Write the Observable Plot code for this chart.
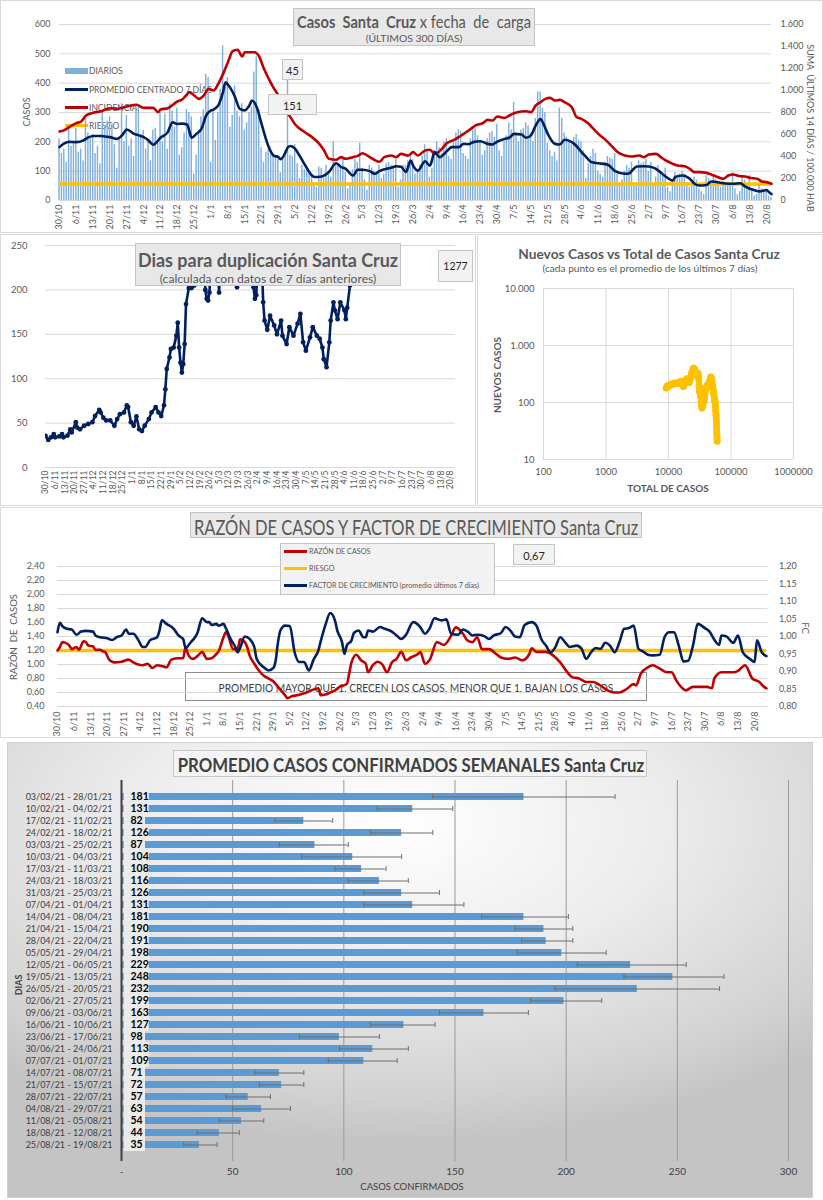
<!DOCTYPE html>
<html><head><meta charset="utf-8">
<script src="https://cdn.jsdelivr.net/npm/d3@7"></script>
<script src="https://cdn.jsdelivr.net/npm/@observablehq/plot@0.6"></script>
<style>
body{margin:0;background:#fff;font-family:Lato,"Open Sans",sans-serif;}
#root{position:relative;width:823px;height:1200px;overflow:hidden;background:#fff;}
#root div{position:absolute;}
svg{position:absolute;}
</style></head><body><div id="root"></div>
<script>
// ---------------- DATA ----------------
const weekTicks = ["30/10","6/11","13/11","20/11","27/11","4/12","11/12","18/12","25/12","1/1","8/1","15/1","22/1","29/1","5/2","12/2","19/2","26/2","5/3","12/3","19/3","26/3","2/4","9/4","16/4","23/4","30/4","7/5","14/5","21/5","28/5","4/6","11/6","18/6","25/6","2/7","9/7","16/7","23/7","30/7","6/8","13/8","20/8"];

// daily cases from 30/10/2020 (one value per day)
const casosDiarios = [
210,160,175,130,250,185,200, 245,165,175,135,280,230,210, 225,160,185,125,300,255,270,
285,260,190,110,210,330,200, 290,185,210,150,315,320,225, 240,175,205,135,240,245,195,
300,200,295,175,330,305,250, 315,155,180,230,310,300,285, 90,155,240,285,310,430,420,
130,305,205,300,380,527,390, 420,250,290,390,305,285,330, 240,265,300,320,438,490,310,
180,130,165,175,155,160,150, 140,95,150,170,410,155,150, 190,125,75,120,105,110,95,
85,60,45,115,110,75,120, 95,80,200,130,120,110,140, 95,40,55,105,140,130,195,
110,70,35,120,110,100,95, 120,75,90,125,130,120,115, 140,45,70,120,120,135,150,
140,90,100,120,150,190,165, 80,110,170,200,180,160,200, 210,150,140,200,230,240,235,
160,150,140,210,240,245,220, 200,155,170,210,230,235,215, 260,170,150,200,220,265,240,
335,225,200,240,245,265,255, 230,200,280,370,370,315,300, 195,170,150,165,135,315,280,
230,215,200,190,215,225,205, 200,170,75,125,150,175,160, 100,90,80,130,150,145,140,
160,90,60,70,100,120,110, 130,60,50,135,125,130,140, 100,130,60,80,120,95,85,
110,45,30,70,95,75,90, 100,90,60,45,55,80,70, 40,30,20,85,75,65,80,
70,55,45,65,60,55,60, 95,40,20,30,75,70,55, 85,40,15,20,55,40,35, 30,15,10];

const promedio7 = [["30/10",182],["1/11",195],["3/11",200],["6/11",199],["9/11",205],["11/11",215],["13/11",220],["16/11",220],["18/11",218],["20/11",216],["23/11",210],["25/11",222],["27/11",242],["30/11",227],["2/12",222],["4/12",216],["6/12",205],["8/12",190],["11/12",214],["14/12",233],["16/12",267],["18/12",261],["20/12",262],["22/12",259],["24/12",214],["26/12",228],["28/12",244],["30/12",290],["1/1",307],["2/1",310],["4/1",324],["6/1",370],["7/1",403],["8/1",395],["10/1",370],["11/1",352],["13/1",312],["15/1",307],["17/1",325],["18/1",341],["20/1",318],["22/1",261],["24/1",205],["25/1",182],["27/1",153],["29/1",148],["30/1",141],["1/2",165],["2/2",182],["3/2",186],["5/2",176],["7/2",150],["8/2",136],["10/2",108],["12/2",85],["13/2",80],["16/2",82],["19/2",97],["22/2",127],["24/2",115],["26/2",108],["1/3",85],["3/3",105],["5/3",105],["8/3",100],["10/3",91],["12/3",100],["15/3",108],["17/3",112],["19/3",117],["21/3",115],["23/3",97],["25/3",136],["26/3",119],["28/3",102],["31/3",134],["2/4",119],["4/4",165],["6/4",148],["9/4",168],["11/4",182],["14/4",182],["16/4",193],["18/4",192],["20/4",199],["23/4",202],["26/4",193],["28/4",191],["30/4",201],["3/5",210],["5/5",214],["7/5",227],["10/5",225],["12/5",214],["14/5",222],["16/5",256],["18/5",278],["19/5",265],["21/5",227],["24/5",193],["26/5",191],["28/5",207],["31/5",199],["2/6",185],["4/6",165],["6/6",148],["8/6",131],["11/6",127],["15/6",122],["18/6",100],["22/6",91],["24/6",93],["25/6",102],["27/6",116],["30/6",117],["2/7",116],["5/7",108],["7/7",95],["9/7",82],["12/7",68],["13/7",80],["16/7",85],["19/7",74],["21/7",57],["23/7",51],["26/7",53],["28/7",65],["30/7",63],["2/8",59],["6/8",57],["9/8",59],["11/8",48],["13/8",40],["15/8",35],["17/8",31],["20/8",36],["21/8",28],["22/8",22]];

// incidence: sum of last 14 days / 100.000 inhabitants (right axis)
const incidencia = [["30/10",627],["1/11",640],["3/11",667],["6/11",703],["8/11",718],["10/11",773],["13/11",797],["16/11",809],["20/11",839],["23/11",833],["27/11",854],["1/12",870],["4/12",842],["8/12",842],["10/12",803],["11/12",827],["14/12",839],["18/12",900],["20/12",918],["22/12",964],["23/12",985],["25/12",955],["27/12",924],["29/12",955],["31/12",1015],["2/1",1000],["4/1",1061],["6/1",1151],["8/1",1257],["10/1",1357],["12/1",1370],["14/1",1309],["15/1",1348],["17/1",1348],["19/1",1348],["21/1",1309],["23/1",1197],["25/1",1106],["27/1",1024],["29/1",955],["31/1",848],["3/2",758],["5/2",691],["8/2",636],["10/2",606],["12/2",576],["15/2",515],["17/2",455],["19/2",379],["22/2",370],["24/2",394],["26/2",379],["1/3",394],["3/3",406],["5/3",430],["8/3",394],["12/3",352],["14/3",394],["17/3",409],["19/3",394],["21/3",424],["24/3",409],["26/3",440],["28/3",409],["31/3",455],["2/4",461],["4/4",424],["7/4",470],["9/4",521],["12/4",551],["14/4",576],["16/4",606],["19/4",651],["21/4",682],["24/4",703],["26/4",733],["28/4",727],["30/4",764],["3/5",751],["5/5",773],["7/5",794],["10/5",809],["12/5",812],["14/5",803],["16/5",864],["18/5",894],["20/5",924],["22/5",933],["24/5",909],["26/5",915],["28/5",894],["31/5",848],["2/6",758],["4/6",742],["7/6",697],["9/6",651],["11/6",606],["14/6",551],["17/6",485],["19/6",440],["22/6",409],["25/6",400],["28/6",409],["30/6",394],["2/7",418],["5/7",424],["7/7",394],["9/7",364],["12/7",333],["14/7",318],["17/7",312],["19/7",288],["21/7",258],["23/7",258],["26/7",251],["28/7",236],["30/7",218],["2/8",197],["4/8",227],["6/8",236],["9/8",221],["11/8",218],["13/8",206],["16/8",197],["18/8",173],["20/8",167],["22/8",152]];
const riesgoIncidencia = 150;
const ticksCasos = [0,100,200,300,400,500,600];
const ticksIncidencia = [0,200,400,600,800,1000,1200,1400,1600];

// days for doubling
const diasDuplicacion = [["30/10",35.7],["1/11",31],["3/11",34],["5/11",37.6],["6/11",34],["9/11",35],["11/11",37.6],["12/11",34],["15/11",36],["17/11",43],["18/11",39.5],["21/11",51],["22/11",45],["24/11",43],["27/11",47],["30/11",49],["3/12",51],["5/12",58],["8/12",65],["9/12",62],["11/12",56],["13/12",53],["16/12",53],["19/12",47],["21/12",54.5],["23/12",60],["26/12",62],["28/12",70],["29/12",68],["31/12",51],["2/1",47],["4/1",57.5],["6/1",43],["8/1",41],["10/1",47],["13/1",54.5],["15/1",62],["18/1",68],["20/1",62],["22/1",58],["24/1",70],["25/1",88],["26/1",111],["28/1",124],["29/1",133.5],["31/1",135],["2/2",148.5],["3/2",163],["4/2",135],["5/2",118],["6/2",107],["7/2",116.5],["8/2",139],["9/2",184],["11/2",202],["13/2",202],["15/2",205],["17/2",280],["20/2",300],["22/2",260],["23/2",200],["24/2",190],["25/2",188],["26/2",197],["27/2",230],["1/3",280],["3/3",260],["5/3",197],["7/3",270],["10/3",320],["13/3",300],["16/3",280],["18/3",203],["20/3",260],["23/3",320],["26/3",300],["29/3",260],["30/3",203],["31/3",190],["1/4",194],["2/4",230],["4/4",280],["6/4",186],["7/4",165.5],["9/4",155],["11/4",171],["14/4",160],["16/4",150],["19/4",165.5],["20/4",148.5],["23/4",139],["25/4",158],["28/4",148.5],["1/5",162],["3/5",173],["5/5",141],["7/5",131.6],["10/5",146.6],["12/5",158],["15/5",148.5],["17/5",145],["19/5",135],["20/5",122],["22/5",113],["24/5",141],["25/5",165.5],["27/5",186],["28/5",177],["30/5",167],["1/6",186],["4/6",177],["5/6",167],["6/6",180],["8/6",205],["10/6",400],["20/6",650],["10/7",900],["1/8",1100],["25/8",1277]];
const ticksDuplicacion = [0,50,100,150,200,250];

// new cases vs total cases (7 day averages)
const nuevosVsTotal = [[9200,180],[9500,195],[9900,190],[10400,200],[10900,210],[11400,205],[12000,215],[12600,220],[13200,215],[13800,220],[14400,215],[15000,225],[15600,235],[16200,225],[16800,210],[17300,190],[17900,215],[18500,235],[19100,250],[19700,260],[20300,250],[20900,240],[21500,225],[22100,250],[22700,280],[23300,320],[23900,350],[24500,380],[25100,400],[25700,395],[26300,380],[26900,350],[27500,330],[28100,320],[28700,300],[29300,330],[29900,320],[30500,260],[31000,190],[31400,160],[31800,150],[32300,165],[32800,130],[33300,100],[33800,85],[34300,80],[34800,90],[35300,88],[35800,100],[36400,110],[37000,105],[37600,125],[38200,140],[38900,160],[39600,170],[40400,185],[41200,190],[42000,200],[42800,210],[43600,205],[44400,225],[45200,220],[46000,245],[46800,265],[47600,280],[48300,265],[49000,250],[49700,230],[50400,200],[51100,185],[51800,165],[52500,150],[53200,140],[53900,125],[54600,115],[55300,105],[55900,95],[56500,85],[57100,70],[57600,60],[58100,50],[58600,42],[59000,35],[59400,28],[59700,24],[60000,21]];
const ticksTotal = [100,1000,10000,100000,1000000];
const ticksNuevos = [10,100,1000,10000];

// ratio of cases (left axis) and growth factor (right axis)
const razonCasos = [["30/10",1.20],["31/10",1.25],["1/11",1.32],["3/11",1.30],["4/11",1.27],["5/11",1.22],["7/11",1.25],["8/11",1.21],["10/11",1.33],["11/11",1.32],["12/11",1.27],["14/11",1.26],["15/11",1.21],["17/11",1.21],["18/11",1.19],["19/11",1.18],["21/11",1.06],["23/11",1.03],["26/11",1.04],["29/11",1.07],["1/12",1.03],["3/12",1.00],["5/12",0.99],["7/12",1.01],["9/12",0.95],["11/12",0.99],["13/12",0.98],["15/12",0.96],["17/12",1.07],["20/12",1.09],["22/12",1.09],["23/12",1.25],["24/12",1.15],["26/12",1.08],["28/12",1.12],["30/12",1.18],["1/1",1.08],["3/1",1.09],["5/1",1.15],["6/1",1.19],["8/1",1.39],["9/1",1.46],["10/1",1.41],["12/1",1.22],["14/1",1.22],["15/1",1.36],["17/1",1.32],["18/1",1.25],["19/1",1.13],["21/1",1.01],["23/1",0.91],["25/1",0.84],["27/1",0.80],["29/1",0.76],["31/1",0.68],["3/2",0.56],["4/2",0.52],["6/2",0.55],["8/2",0.56],["10/2",0.58],["12/2",0.60],["14/2",0.63],["17/2",0.66],["18/2",0.56],["20/2",0.57],["22/2",0.60],["24/2",0.63],["26/2",0.68],["1/3",0.72],["2/3",0.87],["3/3",1.03],["5/3",1.14],["7/3",1.06],["9/3",1.01],["10/3",0.89],["12/3",0.99],["14/3",1.04],["16/3",1.00],["18/3",0.89],["20/3",1.03],["22/3",1.08],["24/3",1.18],["26/3",1.06],["28/3",1.10],["31/3",1.15],["1/4",1.18],["3/4",1.01],["5/4",1.07],["8/4",1.32],["11/4",1.28],["14/4",1.41],["16/4",1.53],["19/4",1.44],["21/4",1.34],["23/4",1.32],["25/4",1.39],["27/4",1.22],["30/4",1.22],["3/5",1.15],["5/5",1.10],["8/5",1.08],["11/5",1.10],["14/5",1.06],["17/5",1.15],["18/5",1.23],["20/5",1.18],["24/5",1.18],["27/5",1.13],["30/5",1.03],["2/6",0.89],["4/6",0.82],["7/6",0.80],["10/6",0.75],["13/6",0.75],["16/6",0.70],["19/6",0.63],["22/6",0.60],["24/6",0.60],["27/6",0.65],["30/6",0.72],["1/7",0.70],["3/7",0.87],["6/7",0.96],["8/7",0.99],["11/7",0.94],["14/7",0.89],["16/7",0.89],["18/7",0.77],["20/7",0.68],["22/7",0.63],["25/7",0.68],["28/7",0.68],["31/7",0.68],["2/8",0.66],["3/8",0.80],["6/8",0.89],["9/8",0.89],["11/8",0.89],["13/8",0.91],["16/8",0.99],["19/8",0.80],["22/8",0.75],["24/8",0.68],["25/8",0.66]];
const factorCrecimiento = [["30/10",1.012],["31/10",1.039],["1/11",1.030],["3/11",1.022],["5/11",1.020],["7/11",1.005],["9/11",1.014],["11/11",1.016],["14/11",1.014],["15/11",1.003],["17/11",0.998],["20/11",0.995],["22/11",0.990],["24/11",0.998],["26/11",1.003],["28/11",1.020],["29/11",1.008],["1/12",1.008],["3/12",0.991],["5/12",0.970],["6/12",0.970],["8/12",0.989],["11/12",0.998],["12/12",1.017],["13/12",1.046],["15/12",1.036],["18/12",1.022],["20/12",1.003],["22/12",0.993],["23/12",0.967],["25/12",0.982],["27/12",0.998],["28/12",1.010],["30/12",1.052],["1/1",1.041],["2/1",1.041],["3/1",1.033],["5/1",1.036],["6/1",1.031],["8/1",1.036],["9/1",1.024],["11/1",0.993],["13/1",0.970],["14/1",0.955],["15/1",0.967],["17/1",1.000],["19/1",0.993],["21/1",0.970],["22/1",0.936],["25/1",0.912],["27/1",0.903],["29/1",0.910],["30/1",0.931],["31/1",0.984],["1/2",1.017],["3/2",1.031],["5/2",1.030],["7/2",0.955],["9/2",0.927],["11/2",0.927],["13/2",0.903],["15/2",0.934],["17/2",0.960],["18/2",0.986],["20/2",1.033],["22/2",1.067],["24/2",1.046],["25/2",1.017],["27/2",0.984],["28/2",0.950],["1/3",0.974],["3/3",0.989],["4/3",1.010],["6/3",1.017],["8/3",0.998],["9/3",0.998],["10/3",1.017],["12/3",1.014],["15/3",1.027],["17/3",1.022],["20/3",1.014],["22/3",1.003],["24/3",0.993],["26/3",1.005],["29/3",1.041],["1/4",1.027],["3/4",1.008],["5/4",1.024],["7/4",1.052],["10/4",1.046],["12/4",1.049],["14/4",1.008],["17/4",1.005],["19/4",1.020],["21/4",1.014],["23/4",1.003],["25/4",1.005],["28/4",1.001],["30/4",0.993],["2/5",1.003],["5/5",1.010],["7/5",1.027],["9/5",1.017],["11/5",1.000],["13/5",0.998],["15/5",1.033],["18/5",1.041],["20/5",1.031],["22/5",0.993],["24/5",0.974],["26/5",0.955],["28/5",0.970],["30/5",0.998],["1/6",0.984],["3/6",0.970],["6/6",0.974],["8/6",0.965],["10/6",0.936],["12/6",0.955],["14/6",0.967],["16/6",0.965],["18/6",0.982],["20/6",0.974],["22/6",0.955],["24/6",0.984],["26/6",1.022],["28/6",1.024],["30/6",1.031],["2/7",0.965],["4/7",0.957],["6/7",0.948],["8/7",0.946],["11/7",0.948],["13/7",0.998],["15/7",1.012],["17/7",1.012],["19/7",0.974],["21/7",0.929],["23/7",0.931],["25/7",0.974],["27/7",1.036],["30/7",1.024],["1/8",1.014],["3/8",0.991],["5/8",0.976],["6/8",1.003],["8/8",1.001],["11/8",0.982],["13/8",1.003],["15/8",0.955],["18/8",0.936],["20/8",0.927],["21/8",0.989],["23/8",0.955],["25/8",0.944]];
const riesgoRazon = 1.2;
const ticksRazon = [0.4,0.6,0.8,1.0,1.2,1.4,1.6,1.8,2.0,2.2,2.4];
const ticksFC = [0.80,0.85,0.90,0.95,1.00,1.05,1.10,1.15,1.20];

// weekly confirmed cases average
const semanas = ["03/02/21 - 28/01/21","10/02/21 - 04/02/21","17/02/21 - 11/02/21","24/02/21 - 18/02/21","03/03/21 - 25/02/21","10/03/21 - 04/03/21","17/03/21 - 11/03/21","24/03/21 - 18/03/21","31/03/21 - 25/03/21","07/04/21 - 01/04/21","14/04/21 - 08/04/21","21/04/21 - 15/04/21","28/04/21 - 22/04/21","05/05/21 - 29/04/21","12/05/21 - 06/05/21","19/05/21 - 13/05/21","26/05/21 - 20/05/21","02/06/21 - 27/05/21","09/06/21 - 03/06/21","16/06/21 - 10/06/21","23/06/21 - 17/06/21","30/06/21 - 24/06/21","07/07/21 - 01/07/21","14/07/21 - 08/07/21","21/07/21 - 15/07/21","28/07/21 - 22/07/21","04/08/21 - 29/07/21","11/08/21 - 05/08/21","18/08/21 - 12/08/21","25/08/21 - 19/08/21"];
const promedioSemanal = [181,131,82,126,87,104,108,116,126,131,181,190,191,198,229,248,232,199,163,127,98,113,109,71,72,57,63,54,44,35];
const minSemanal = [140,115,69,112,71,81,96,102,109,109,162,177,180,178,205,226,195,184,143,112,80,98,93,60,62,47,50,44,34,28];
const maxSemanal = [222,149,95,140,102,126,119,129,143,154,201,203,203,218,254,271,269,216,183,141,116,129,124,82,82,67,76,64,53,43];
const ticksSemanal = [0,50,100,150,200,250,300];

// ---------------- HELPERS ----------------
const FONT = "Lato, 'Open Sans', sans-serif";
const GREY = "#595959";
const START = Date.UTC(2020, 9, 30);
function dayIndex(s) {
  const [d, m] = s.split("/").map(Number);
  const y = m >= 10 ? 2020 : 2021;
  return Math.round((Date.UTC(y, m - 1, d) - START) / 864e5);
}
const toSeries = arr => arr.map(([d, v]) => ({i: dayIndex(d), v}));
const loc = d3.formatLocale({decimal: ",", thousands: ".", grouping: [3], currency: ["$", ""]});
const fmtInt = loc.format(",d");
const fmt2 = loc.format(".2f");
const tickIdx = weekTicks.map(dayIndex);
const tickLab = d => weekTicks[tickIdx.indexOf(d)];

const root = document.getElementById("root");
function div(css, html) {
  const d = document.createElement("div");
  d.style.cssText = "position:absolute;" + css;
  if (html != null) d.innerHTML = html;
  root.appendChild(d);
  return d;
}
// centred text; optional target width squeezes the text horizontally to fit
function txt(x, y, html, css, rot, fitW) {
  const el = div(`left:${x}px;top:${y}px;transform:translate(-50%,-50%)${rot ? ` rotate(${rot}deg)` : ""};white-space:nowrap;color:${GREY};font-family:${FONT};${css || ""}`, html);
  if (fitW) {
    const w = el.offsetWidth;
    el.style.transform = `translate(-50%,-50%) scaleX(${fitW / w})`;
  }
  return el;
}
function box(x, y, w, h, css) {
  return div(`left:${x}px;top:${y}px;width:${w}px;height:${h}px;box-sizing:border-box;${css || ""}`);
}
function place(svg, left, top) {
  svg.style.left = left + "px"; svg.style.top = top + "px";
  root.appendChild(svg);
}
const baseStyle = (fs) => ({fontFamily: FONT, fontSize: fs, color: GREY, background: "transparent", overflow: "visible"});

// ---------------- PANEL FRAMES ----------------
box(0, 0, 823, 233, "border:1px solid #d9d9d9;background:#fff;");
box(0, 234, 476, 272, "border:1px solid #d9d9d9;background:#fff;");
box(477, 234, 346, 272, "border:1px solid #d9d9d9;background:#fff;");
box(0, 507, 823, 231, "border:1px solid #d9d9d9;background:#fff;");
box(7, 742, 806, 456, "border:1px solid #cfcfcf;background:radial-gradient(ellipse 75% 70% at 48% 18%, #ffffff 0%, #ececec 45%, #d2d2d2 85%, #c4c4c4 100%);");

// ---------------- PANEL 1 legend (under the lines) ----------------
const legend1 = [["DIARIOS", "#7fb0de", 6, 70.5], ["PROMEDIO CENTRADO 7 DÍAS", "#002060", 3, 89.5], ["INCIDENCIA", "#c00000", 3, 107.5], ["RIESGO", "#ffc000", 3.5, 125.5]];
legend1.forEach(([t, c, h, y]) => {
  box(65, y - h / 2, 23, h, `background:${c};`);
  div(`left:89px;top:${y - 6}px;line-height:12px;font-size:8.5px;color:${GREY};font-family:${FONT};white-space:nowrap;`, t);
});

// ---------------- PANEL 4 annotation (under the lines) ----------------
box(185, 672, 462, 29, "border:1px solid #8c8c8c;background:transparent;");
txt(415.5, 687, "PROMEDIO MAYOR QUE 1, CRECEN LOS CASOS, MENOR QUE 1, BAJAN LOS CASOS", "font-size:12px;color:#404040;", 0, 395);

// ---------------- PANEL 1 chart ----------------
const K1 = 600 / 1600;
const daily = casosDiarios.map((v, i) => ({i, v}));
const prom = toSeries(promedio7);
const inc = toSeries(incidencia);
const p1 = Plot.plot({
  width: 823, height: 232,
  marginLeft: 59, marginRight: 52, marginTop: 24, marginBottom: 32,
  style: baseStyle("9px"),
  x: {domain: [0, 296], axis: null},
  y: {domain: [0, 600], axis: null},
  marks: [
    Plot.ruleY(ticksCasos, {stroke: "#d9d9d9", strokeWidth: 1}),
    Plot.rectY(daily, {x1: d => d.i - 0.3, x2: d => d.i + 0.3, y1: 0, y2: "v", fill: "#7fb0de"}),
    Plot.ruleY([riesgoIncidencia * K1], {x1: daily[0].i, x2: daily[daily.length - 1].i, stroke: "#ffc000", strokeWidth: 3.5}),
    Plot.line(inc, {x: "i", y: d => d.v * K1, stroke: "#c00000", strokeWidth: 2.6, curve: "monotone-x"}),
    Plot.line(prom, {x: "i", y: "v", stroke: "#002060", strokeWidth: 2.6, curve: "monotone-x"}),
    Plot.axisY({anchor: "left", ticks: ticksCasos, tickSize: 0, tickPadding: 9, label: null}),
    Plot.axisY({anchor: "right", ticks: ticksIncidencia.map(v => v * K1), tickFormat: v => fmtInt(Math.round(v / K1)), tickSize: 0, tickPadding: 9, label: null}),
    Plot.axisX({ticks: tickIdx, tickFormat: tickLab, tickRotate: -90, tickSize: 0, tickPadding: 4, label: null})
  ]
});
place(p1, 0, 0);
txt(26, 112, "CASOS", "font-size:9px;", -90);
txt(810, 128, "SUMA&nbsp; ÚLTIMOS 14 DÍAS / 100.000 HAB", "font-size:9px;", 90);
box(293, 8, 242, 38, "background:#e8e8e8;border:1px solid #c4c4c4;");
txt(414, 21, "<b>Casos&nbsp; Santa&nbsp; Cruz</b> x fecha&nbsp; de&nbsp; carga", "font-size:17.5px;", 0, 234);
txt(413.5, 38, "(ÚLTIMOS 300 DÍAS)", "font-size:9.5px;", 0, 97);
box(282, 59, 21, 21, "background:#f2f2f2;border:1px solid #c4c4c4;");
txt(292.5, 69.5, "45", "font-size:11px;color:#262626;");
box(268, 94, 49, 21, "background:#f2f2f2;border:1px solid #c4c4c4;");
txt(292.5, 104.5, "151", "font-size:11px;color:#262626;");

// ---------------- PANEL 2 chart ----------------
const dup = toSeries(diasDuplicacion);
const p2 = Plot.plot({
  width: 475, height: 270,
  marginLeft: 45, marginRight: 20, marginTop: 10, marginBottom: 38,
  style: baseStyle("8.5px"),
  x: {domain: [0, 297.6], axis: null},
  y: {domain: [0, 250], axis: null},
  marks: [
    Plot.ruleY(ticksDuplicacion, {stroke: "#d9d9d9"}),
    Plot.line(dup, {x: "i", y: "v", stroke: "#002060", strokeWidth: 2.6, clip: true}),
    Plot.dot(dup, {x: "i", y: "v", r: 2.4, fill: "#002060", clip: true}),
    Plot.axisY({ticks: ticksDuplicacion, tickSize: 0, tickPadding: 18, fontSize: 9.5, label: null}),
    Plot.axisX({ticks: tickIdx, tickFormat: tickLab, tickRotate: -90, tickSize: 0, tickPadding: 3, label: null})
  ]
});
place(p2, 0, 235);
box(135, 243, 266, 43, "background:#e8e8e8;border:1px solid #c4c4c4;");
txt(268, 259, "<b>Dias para duplicación Santa Cruz</b>", "font-size:19px;", 0, 260);
txt(268, 278, "(calculada con datos de 7 días anteriores)", "font-size:11px;", 0, 216);
box(438, 250, 35, 32, "background:#f2f2f2;border:1px solid #c4c4c4;");
txt(455.5, 266, "1277", "font-size:10.5px;color:#262626;");

// ---------------- PANEL 3 chart ----------------
const nt = nuevosVsTotal.map(([t, n]) => ({t, n}));
const p3 = Plot.plot({
  width: 346, height: 270,
  marginLeft: 66, marginRight: 30, marginTop: 53, marginBottom: 46,
  style: baseStyle("9.5px"),
  x: {type: "log", domain: [100, 1e6], axis: null},
  y: {type: "log", domain: [10, 1e4], axis: null},
  marks: [
    Plot.ruleX(ticksTotal, {stroke: "#d9d9d9"}),
    Plot.ruleY(ticksNuevos, {stroke: "#d9d9d9"}),
    Plot.line(nt, {x: "t", y: "n", stroke: "#ffc000", strokeWidth: 6.5, strokeLinejoin: "round"}),
    Plot.dot(nt, {x: "t", y: "n", r: 3.5, fill: "#ffc000"}),
    Plot.axisY({ticks: ticksNuevos, tickFormat: fmtInt, tickSize: 0, tickPadding: 9, label: null}),
    Plot.axisX({ticks: ticksTotal, tickFormat: d => String(d), tickSize: 0, tickPadding: 9, label: null})
  ]
});
place(p3, 477, 235);
txt(649, 253, "<b>Nuevos Casos vs Total de Casos Santa Cruz</b>", "font-size:14px;", 0, 262);
txt(649.5, 268, "(cada punto es el promedio de los últimos 7 días)", "font-size:10px;", 0, 215);
txt(497, 375, "<b>NUEVOS CASOS</b>", "font-size:10px;", -90);
txt(668, 488, "<b>TOTAL DE CASOS</b>", "font-size:10px;");

// ---------------- PANEL 4 chart ----------------
const toLeft = fc => 0.4 + (fc - 0.8) * 5;
const raz = toSeries(razonCasos);
const fcs = toSeries(factorCrecimiento);
const p4 = Plot.plot({
  width: 823, height: 230,
  marginLeft: 57, marginRight: 55.6, marginTop: 59, marginBottom: 31,
  style: baseStyle("9px"),
  x: {domain: [0, 299.6], axis: null},
  y: {domain: [0.4, 2.4], axis: null},
  marks: [
    Plot.ruleY(ticksRazon, {stroke: "#d9d9d9"}),
    Plot.ruleY([riesgoRazon], {x1: raz[0].i, x2: raz[raz.length - 1].i, stroke: "#ffc000", strokeWidth: 3.5}),
    Plot.line(raz, {x: "i", y: "v", stroke: "#c00000", strokeWidth: 2.6, curve: "monotone-x"}),
    Plot.line(fcs, {x: "i", y: d => toLeft(d.v), stroke: "#002060", strokeWidth: 2.6, curve: "monotone-x"}),
    Plot.axisY({anchor: "left", ticks: ticksRazon, tickFormat: fmt2, tickSize: 0, tickPadding: 13, label: null}),
    Plot.axisY({anchor: "right", ticks: ticksFC.map(toLeft), tickFormat: v => fmt2(0.8 + (v - 0.4) / 5), tickSize: 0, tickPadding: 11, label: null}),
    Plot.axisX({ticks: tickIdx, tickFormat: tickLab, tickRotate: -90, tickSize: 0, tickPadding: 5, label: null})
  ]
});
place(p4, 0, 507);
box(190, 512, 452, 26, "background:#e8e8e8;border:1px solid #c4c4c4;");
txt(416, 525.5, "RAZÓN DE CASOS Y FACTOR DE CRECIMIENTO Santa Cruz", "font-size:21px;", 0, 444);
box(280, 543, 215, 52, "background:#f2f2f2;border:1px solid #c4c4c4;");
const legend4 = [["RAZÓN DE CASOS", "#c00000", 551.5], ["RIESGO", "#ffc000", 568.5], ["FACTOR DE CRECIMIENTO (promedio últimos 7 días)", "#002060", 585.5]];
legend4.forEach(([t, c, y]) => {
  box(284, y - 1.5, 23, 3, `background:${c};`);
  div(`left:309px;top:${y - 6}px;line-height:12px;font-size:7.2px;color:${GREY};font-family:${FONT};white-space:nowrap;`, t);
});
box(513, 544, 42, 21, "background:#f2f2f2;border:1px solid #c4c4c4;");
txt(534, 554.5, "0,67", "font-size:11px;color:#262626;");
txt(13, 637, "RAZÓN&nbsp; DE&nbsp; CASOS", "font-size:9.5px;", -90);
txt(805, 628, "FC", "font-size:9.5px;", 90);

// ---------------- PANEL 5 chart ----------------
const weekly = semanas.map((label, j) => ({label, v: promedioSemanal[j], lo: minSemanal[j], hi: maxSemanal[j]}));
const p5 = Plot.plot({
  width: 806, height: 455,
  marginLeft: 114, marginRight: 25, marginTop: 38, marginBottom: 36,
  style: {...baseStyle("10px"), color: "#404040"},
  x: {domain: [0, 300], axis: null},
  y: {domain: semanas, padding: 0.44, axis: null},
  marks: [
    Plot.ruleX(ticksSemanal.slice(1), {stroke: "#9a9a9a", strokeWidth: 1}),
    Plot.barX(weekly, {y: "label", x1: 0, x2: "v", fill: "#5b9bd5"}),
    Plot.barX(weekly, {y: "label", x1: 1.2, x2: d => d.v >= 100 ? 12.5 : 10.8, fill: "#ebebeb", insetTop: -3, insetBottom: -3}),
    Plot.ruleY(weekly, {y: "label", x1: "lo", x2: "hi", stroke: "#6e6e6e", strokeWidth: 1}),
    Plot.tickX(weekly, {y: "label", x: "lo", stroke: "#6e6e6e", insetTop: 1, insetBottom: 1}),
    Plot.tickX(weekly, {y: "label", x: "hi", stroke: "#6e6e6e", insetTop: 1, insetBottom: 1}),
    Plot.ruleX([0], {stroke: "#404040", strokeWidth: 2}),
    Plot.text(weekly, {y: "label", x: 0, text: d => String(d.v), dx: 9, textAnchor: "start", fontWeight: "bold", fontSize: 10.5, fill: "#000"}),
    Plot.axisY({tickSize: 0, tickPadding: 9, fontSize: 9, label: null}),
    Plot.axisX({ticks: ticksSemanal, tickFormat: d => d === 0 ? "-" : String(d), tickSize: 0, tickPadding: 6, fontSize: 10, label: null})
  ]
});
place(p5, 7, 742);
box(173, 750, 474, 27, "background:rgba(245,245,245,0.85);border:1px solid #c8c8c8;");
txt(410.5, 764, "<b>PROMEDIO CASOS CONFIRMADOS SEMANALES Santa Cruz</b>", "font-size:19.5px;color:#404040;", 0, 467);
txt(18, 985, "<b>DIAS</b>", "font-size:9px;color:#404040;", -90);
txt(412, 1186, "CASOS CONFIRMADOS", "font-size:9.5px;color:#404040;");
</script>
</body></html>
